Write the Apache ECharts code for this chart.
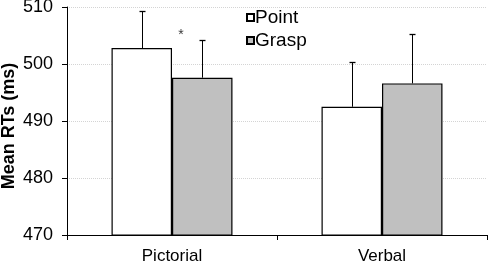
<!DOCTYPE html>
<html><head><meta charset="utf-8">
<script src="https://cdn.jsdelivr.net/npm/echarts@6/dist/echarts.min.js"></script>
<style>html,body{margin:0;padding:0;background:#fff}#c{width:490px;height:266px}</style>
</head><body><div id="c"></div>
<script>
var categories = ['Pictorial', 'Verbal'];
var pointMeans = [502.8, 492.5];
var pointErrors = [6.5, 7.9];
var graspMeans = [497.6, 496.6];
var graspErrors = [6.6, 8.7];
var yTicks = [470, 480, 490, 500, 510];
var significance = [['Pictorial', 505.6, '*']];

var chart = echarts.init(document.getElementById('c'));
var FONT = 'Liberation Sans, Arial, sans-serif';
var barFrac = 0.288;

function errSeries(means, errs, side) {
  return {
    type: 'custom',
    silent: true,
    z: 5,
    data: means.map(function (m, i) { return [i, m, errs[i]]; }),
    renderItem: function (params, api) {
      var i = api.value(0), m = api.value(1), e = api.value(2);
      var band = api.size([1, 0])[0];
      var off = side * band * barFrac / 2;
      var p0 = api.coord([i, m]);
      var p1 = api.coord([i, m + e]);
      var x = Math.round(p0[0] + off) + 0.5;
      var yt = Math.round(p1[1]) + 0.5;
      return {
        type: 'group',
        children: [
          { type: 'line', shape: { x1: x, y1: p0[1], x2: x, y2: yt }, style: { stroke: '#000', lineWidth: 1 } },
          { type: 'line', shape: { x1: x - 3, y1: yt, x2: x + 3, y2: yt }, style: { stroke: '#000', lineWidth: 1.3 } }
        ]
      };
    }
  };
}

chart.setOption({
  animation: false,
  textStyle: { fontFamily: FONT },
  grid: { left: 67, right: 3, top: 7, bottom: 31, containLabel: false, outerBoundsMode: 'none' },
  legend: {
    orient: 'vertical', left: 246, top: 8, itemGap: 4, padding: 0,
    icon: 'rect', itemWidth: 7, itemHeight: 7,
    textStyle: { fontFamily: FONT, fontSize: 19, lineHeight: 19, color: '#000', padding: [0, 0, 0, -4] },
    data: ['Point', 'Grasp']
  },
  xAxis: {
    type: 'category', data: categories,
    axisLine: { lineStyle: { color: '#000', width: 1 } },
    axisTick: { show: true, length: 5, lineStyle: { color: '#000' } },
    axisLabel: { color: '#000', fontSize: 17, fontFamily: FONT, margin: 13 }
  },
  yAxis: {
    type: 'value', min: 470, max: 510, interval: 10,
    name: 'Mean RTs (ms)', nameLocation: 'middle', nameGap: 49, nameRotate: 90, nameMoveOverlap: false,
    nameTextStyle: { color: '#000', fontSize: 18, fontWeight: 'bold', fontFamily: FONT, padding: [0, 10, 0, 0] },
    axisLine: { show: true, lineStyle: { color: '#000', width: 1 } },
    axisTick: { show: true, length: 5, lineStyle: { color: '#000' } },
    axisLabel: { color: '#000', fontSize: 18, fontFamily: FONT, margin: 14,
      formatter: function (v) { return yTicks.indexOf(v) >= 0 ? String(v) : ''; } },
    splitLine: { show: true, lineStyle: { color: '#d4d4d4', width: 1, type: 'dotted' } }
  },
  series: [
    {
      name: 'Point', type: 'bar', data: pointMeans, barWidth: (barFrac * 100) + '%', barGap: '0%',
      itemStyle: { color: '#ffffff', borderColor: '#000', borderWidth: 1.2 }
    },
    {
      name: 'Grasp', type: 'bar', data: graspMeans, barWidth: (barFrac * 100) + '%',
      itemStyle: { color: '#c0c0c0', borderColor: '#000', borderWidth: 1.2 }
    },
    errSeries(pointMeans, pointErrors, -1),
    errSeries(graspMeans, graspErrors, 1),
    {
      type: 'scatter', silent: true, symbolSize: 0, z: 6,
      data: significance.map(function (d) { return [d[0], d[1], d[2]]; }),
      label: { show: true, position: 'inside', formatter: function (p) { return p.value[2]; },
        color: '#000', fontSize: 14, fontFamily: FONT, offset: [9, 3] }
    }
  ]
});
</script></body></html>
